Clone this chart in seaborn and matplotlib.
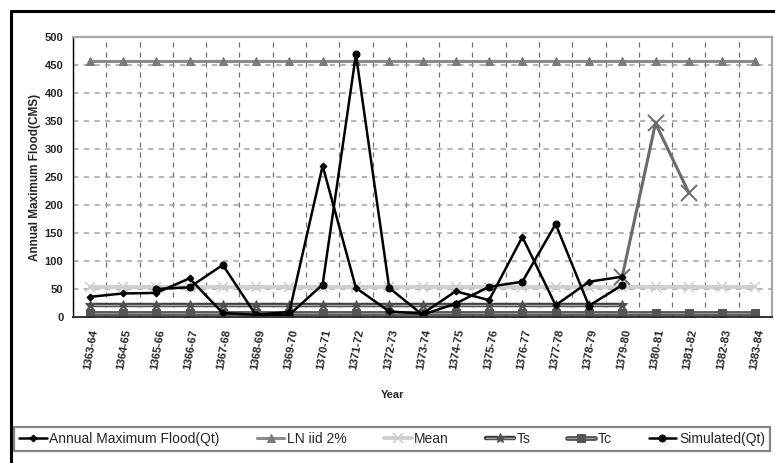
import numpy as np
import matplotlib
matplotlib.use("Agg")
import matplotlib.pyplot as plt
from matplotlib.lines import Line2D
from matplotlib.legend_handler import HandlerTuple
import seaborn as sns

# ---------------- data ----------------
years = ["1363-64", "1364-65", "1365-66", "1366-67", "1367-68", "1368-69", "1369-70",
         "1370-71", "1371-72", "1372-73", "1373-74", "1374-75", "1375-76", "1376-77",
         "1377-78", "1378-79", "1379-80", "1380-81", "1381-82", "1382-83", "1383-84"]

annual_max_flood = [36, 42, 43, 69, 7, 4, 9, 270, 52, 10, 6, 46, 30, 143, 21, 63, 72]
simulated_start = 2
simulated_qt = [50, 53, 93, 3, 4, 58, 469, 52, 4, 24, 54, 63, 166, 20, 57]
ln_iid_2 = [458] * 21
mean_flow = [53] * 21
ts_values = [21] * 17
tc_values = [7] * 21
forecast_start = 16
forecast_values = [72, 346, 222]

sns.set_style("white")
plt.rcParams["font.family"] = ["Liberation Sans", "DejaVu Sans"]

W, H = 775, 463
fig = plt.figure(figsize=(W / 100, H / 100), dpi=100)
ax = fig.add_axes([73 / W, 1 - 317 / H, (772 - 73) / W, (317 - 37) / H])

idx_all = np.arange(len(years))
idx_ts = np.arange(len(ts_values))

sns.lineplot(x=idx_all, y=ln_iid_2, ax=ax, color="#8a8a8a", linewidth=2.2,
             marker="^", markersize=6, markeredgecolor="#7a7a7a", markerfacecolor="#7a7a7a",
             label="LN iid 2%")
sns.lineplot(x=idx_all, y=mean_flow, ax=ax, color="#cfcfcf", linewidth=2.8,
             marker="x", markersize=7, markeredgecolor="#cfcfcf", markeredgewidth=1.2,
             label="Mean")
# Tc: dark band with lighter core
sns.lineplot(x=idx_all, y=tc_values, ax=ax, color="#4a4a4a", linewidth=3.4, label="_tc_band")
sns.lineplot(x=idx_all, y=tc_values, ax=ax, color="#9a9a9a", linewidth=1.0,
             marker="s", markersize=5.5, markeredgecolor="#555555", markerfacecolor="#555555",
             label="_tc_core")
# Ts: dark band with lighter core
sns.lineplot(x=idx_ts, y=ts_values, ax=ax, color="#3e3e3e", linewidth=3.2, label="_ts_band")
sns.lineplot(x=idx_ts, y=ts_values, ax=ax, color="#a8a8a8", linewidth=1.0,
             marker="*", markersize=7, markeredgecolor="#505050", markerfacecolor="#505050",
             label="_ts_core")
sns.lineplot(x=np.arange(forecast_start, forecast_start + len(forecast_values)), y=forecast_values,
             ax=ax, color="#6a6a6a", linewidth=2.2, marker="x", markersize=11,
             markeredgecolor="#6a6a6a", markeredgewidth=1.4, label="_forecast")
sns.lineplot(x=np.arange(len(annual_max_flood)), y=annual_max_flood, ax=ax, color="black",
             linewidth=1.8, marker="D", markersize=3.5, markeredgecolor="black",
             label="Annual Maximum Flood(Qt)")
sns.lineplot(x=np.arange(simulated_start, simulated_start + len(simulated_qt)), y=simulated_qt,
             ax=ax, color="black", linewidth=1.8, marker="o", markersize=5,
             markeredgecolor="black", label="Simulated(Qt)")

# ---------------- axes ----------------
ax.set_xlim(-0.5, len(years) - 0.5)
ax.set_ylim(0, 500)
ax.set_yticks(np.arange(0, 501, 50))
ax.set_xticks(idx_all)
ax.set_xticks(np.arange(-0.5, len(years), 1.0), minor=True)
ax.set_xticklabels(years, rotation=80, ha="right", va="top", rotation_mode="anchor",
                   fontsize=8, fontweight="bold")
for lab in ax.get_yticklabels():
    lab.set_fontsize(8)
    lab.set_fontweight("bold")
ax.tick_params(axis="x", which="major", length=0, pad=8)
ax.tick_params(axis="x", which="minor", length=4, width=1, color="black", direction="out")
ax.tick_params(axis="y", length=4, width=1, color="black", direction="out", pad=3)

ax.yaxis.grid(True, linestyle=(0, (3.5, 3.5)), color="#a0a0a0", linewidth=1.1)
ax.xaxis.grid(True, which="minor", linestyle=(0, (4, 4)), color="#707070", linewidth=0.9)
ax.xaxis.grid(False, which="major")
ax.set_axisbelow(True)
ax.set_xlabel("")
ax.set_ylabel("")

for s in ["top", "right"]:
    ax.spines[s].set_color("#a8a8a8")
    ax.spines[s].set_linewidth(1.6)
ax.spines["left"].set_color("black")
ax.spines["left"].set_linewidth(1.0)
ax.spines["bottom"].set_color("#333333")
ax.spines["bottom"].set_linewidth(1.4)

ax.get_legend().remove()
lines = {ln.get_label(): ln for ln in ax.get_lines()}

fig.text(35 / W, 1 - 177 / H, "Annual Maximum Flood(CMS)", rotation=90, ha="center", va="center",
         fontsize=8.5, fontweight="bold")
fig.text(393 / W, 1 - 395 / H, "Year", ha="center", va="center", fontsize=8, fontweight="bold")

leg_handles = [lines["Annual Maximum Flood(Qt)"], lines["LN iid 2%"], lines["Mean"],
               (lines["_ts_band"], lines["_ts_core"]), (lines["_tc_band"], lines["_tc_core"]),
               lines["Simulated(Qt)"]]
leg_labels = ["Annual Maximum Flood(Qt)", "LN iid 2%", "Mean", "Ts", "Tc", "Simulated(Qt)"]
leg = fig.legend(leg_handles, leg_labels, loc="lower left",
                 bbox_to_anchor=(14 / W, 1 - 451 / H, (770 - 14) / W, 26 / H),
                 mode="expand", ncol=6, frameon=True, fancybox=False, fontsize=10,
                 handlelength=2.0, handletextpad=0.2, borderaxespad=0, borderpad=0.35,
                 edgecolor="#666666", handler_map={tuple: HandlerTuple(ndivide=1)})
leg.get_frame().set_linewidth(1.6)

# outer black frame (top and left edges visible)
fig.add_artist(Line2D([11 / W, 1.0], [1 - 11 / H, 1 - 11 / H], color="black", linewidth=2.2,
                      transform=fig.transFigure))
fig.add_artist(Line2D([11 / W, 11 / W], [0.0, 1 - 11 / H], color="black", linewidth=2.2,
                      transform=fig.transFigure))

fig.savefig("out.png", dpi=100, facecolor="white")
